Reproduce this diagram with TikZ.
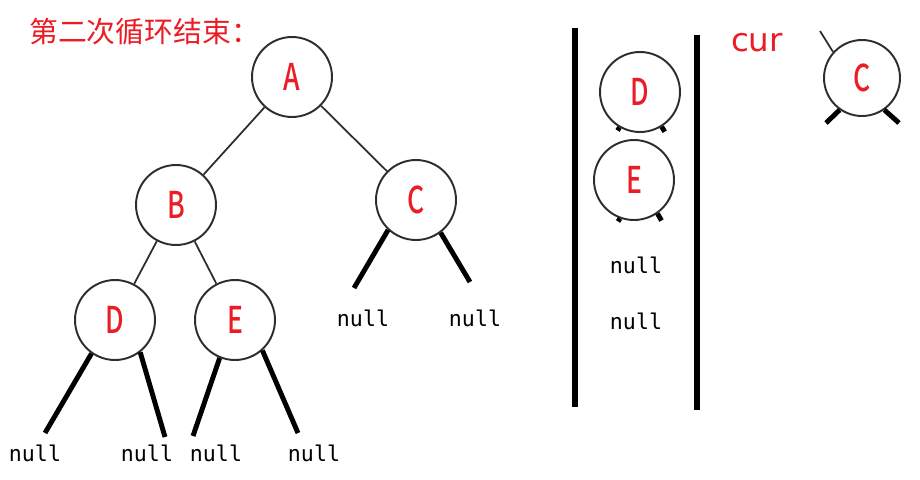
\documentclass[tikz,border=0pt]{standalone}
\usepackage{fontspec}
\setmainfont{DejaVu Sans}
\newfontfamily\cjk{Noto Sans CJK SC}
\newfontfamily\letterfont[FakeStretch=0.72]{Noto Sans CJK SC Medium}
\newfontfamily\monofont{DejaVu Sans Mono}
\usetikzlibrary{calc}
\definecolor{keyred}{RGB}{235,28,36}
\definecolor{ringgray}{RGB}{45,45,45}

\begin{document}
\begin{tikzpicture}[%
  x=0.02cm,y=-0.02cm,
  tnode/.style={circle,draw=ringgray,line width=1.1pt,minimum size=1.6cm,inner sep=0pt,
    font=\letterfont\fontsize{21pt}{21pt}\selectfont,text=keyred},
  nulltxt/.style={inner sep=0pt,font=\monofont\fontsize{12.3pt}{14pt}\selectfont},
  link/.style={draw=ringgray,line width=1pt},
  nulllink/.style={line width=2.8pt},
  bar/.style={line width=2.9pt}]
    \useasboundingbox (0,0) rectangle (920,480);
    % Title
    \node[anchor=west,inner sep=0pt,text=keyred,font=\cjk\fontsize{16.4pt}{17pt}\selectfont]
      (title) at (29,32) {第二次循环结束：};
    % Tree
    \node[tnode] (A) at (292,77) {A};
    \node[tnode] (B) at (176,205) {B};
    \node[tnode] (C) at (416,200) {C};
    \node[tnode] (D) at (115,320) {D};
    \node[tnode] (E) at (235,320) {E};
    \draw[link] (A) -- (B);
    \draw[link] (A) -- (C);
    \draw[link] (B) -- (D);
    \draw[link] (B) -- (E);
    % null children
    \node[nulltxt] (Cl) at (363,318) {null};
    \node[nulltxt] (Cr) at (475,318) {null};
    \node[nulltxt] (Dl) at (35,453) {null};
    \node[nulltxt] (Dr) at (147,453) {null};
    \node[nulltxt] (El) at (216,453) {null};
    \node[nulltxt] (Er) at (314,453) {null};
    \draw[nulllink] (C.227) -- (354,288);
    \draw[nulllink] (C.307) -- (470,282);
    \draw[nulllink] (D.235) -- (45,433);
    \draw[nulllink] (D.308) -- (165,437);
    \draw[nulllink] (E.248) -- (193,436);
    \draw[nulllink] (E.312) -- (298,433);
    % Stack
    \draw[bar] (575,28) -- (575,407);
    \draw[bar] (697,35) -- (697,410);
    \node[tnode] (SD) at (640,92) {D};
    \node[tnode] (SE) at (634,180) {E};
    \draw[nulllink] (SD.240) -- +(-2,3);
    \draw[nulllink] (SD.302) -- +(3,5);
    \draw[nulllink] (SE.250) -- +(-2,3);
    \draw[nulllink] (SE.305) -- +(4,7);
    \node[nulltxt] (S1) at (636,265) {null};
    \node[nulltxt] (S2) at (636,321) {null};
    % cur
    \node[inner sep=0pt,text=keyred,font=\fontsize{18.5pt}{19pt}\selectfont]
      (cur) at (757,43) {cur};
    \node[tnode,minimum size=1.52cm] (cC) at (862,78) {C};
    \draw[link] (cC.138) -- (820,31);
    \draw[nulllink] (cC.235) -- (826,123);
    \draw[nulllink] (cC.305) -- (899,123);
\end{tikzpicture}
\end{document}
